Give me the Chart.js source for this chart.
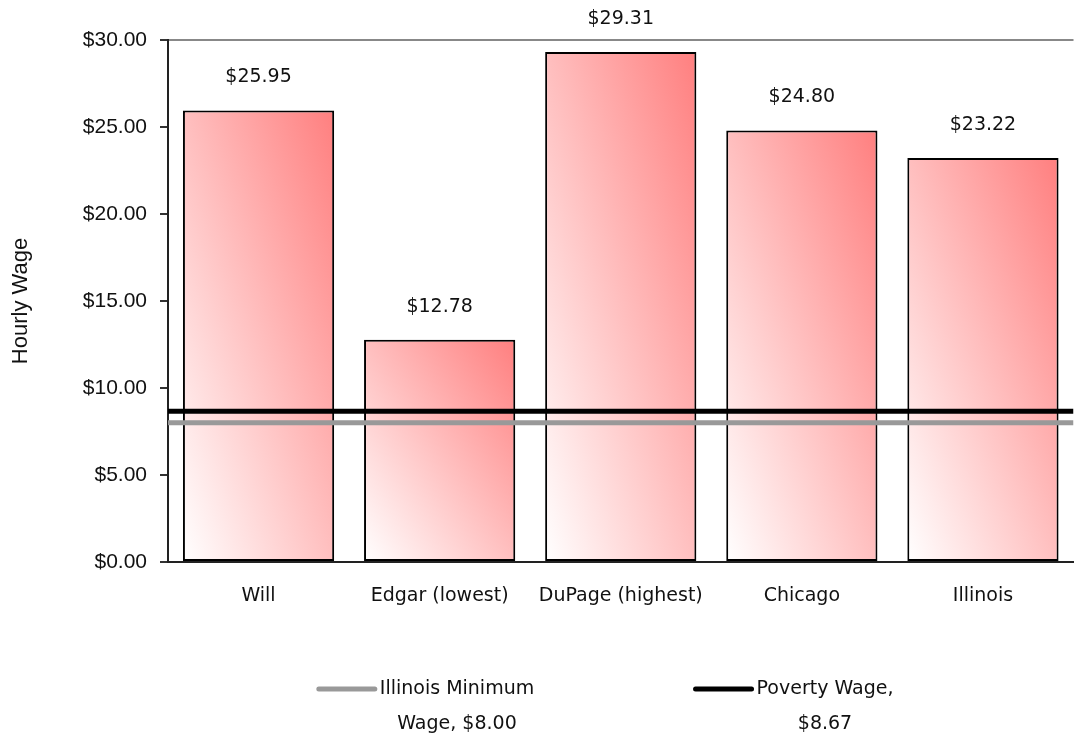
<!DOCTYPE html>
<html>
<head>
<meta charset="utf-8">
<script src="https://cdn.jsdelivr.net/npm/chart.js@4/dist/chart.umd.min.js"></script>
<style>
  body { margin: 0; background: #fff; }
  #wrap { width: 1076px; height: 738px; }
</style>
</head>
<body>
<div id="wrap"><canvas id="wageChart" width="1076" height="738"></canvas></div>
<script>
// Chart data
const categories = ['Will', 'Edgar (lowest)', 'DuPage (highest)', 'Chicago', 'Illinois'];
const hourlyWage = [25.95, 12.78, 29.31, 24.80, 23.22];
const minimumWage = 8.00;
const povertyWage = 8.67;
const yTickStep = 5;
const yMax = 30;
const legendLabels = [['Illinois Minimum', 'Wage, $8.00'], ['Poverty Wage,', '$8.67']];

const BAR_FRACTION = 0.835;
const textFont = "'DejaVu Sans', Verdana, sans-serif";
const axisFont = "'Liberation Sans', Arial, sans-serif";

// diagonal gradient per bar: white at bottom-left -> salmon at top-right
function barGradient(c) {
  const chart = c.chart;
  const xs = chart.scales.x, ys = chart.scales.y;
  if (!xs || !ys || c.dataIndex === undefined || c.raw === undefined) return '#ff8080';
  const w = (xs.right - xs.left) / categories.length * BAR_FRACTION;
  const x0 = xs.getPixelForValue(c.dataIndex) - w / 2;
  const base = ys.getPixelForValue(0);
  const top = ys.getPixelForValue(c.raw);
  const h = Math.max(1, base - top);
  const k = 2 * w * h / (w * w + h * h);
  const pts = [x0, base, x0 + h * k, base - w * k];
  if (!pts.every(Number.isFinite) || w <= 0) return '#ff8080';
  const g = chart.ctx.createLinearGradient(pts[0], pts[1], pts[2], pts[3]);
  g.addColorStop(0, '#ffffff');
  g.addColorStop(1, '#ff7f7f');
  return g;
}

// value labels above bars
const valueLabels = {
  id: 'valueLabels',
  afterDatasetsDraw(chart) {
    const ctx = chart.ctx;
    const meta = chart.getDatasetMeta(0);
    ctx.save();
    ctx.font = '19px ' + textFont;
    ctx.fillStyle = '#111';
    ctx.textAlign = 'center';
    ctx.textBaseline = 'middle';
    meta.data.forEach((bar, i) => {
      ctx.fillText('$' + hourlyWage[i].toFixed(2), bar.x, bar.y - 33);
    });
    ctx.restore();
  }
};

// legend with wrapped labels under the chart
const wrappedLegend = {
  id: 'wrappedLegend',
  afterDraw(chart) {
    const ctx = chart.ctx;
    const centers = [457, 825];
    const lineDs = [chart.data.datasets[1], chart.data.datasets[2]];
    ctx.save();
    ctx.font = '19px ' + textFont;
    ctx.fillStyle = '#111';
    ctx.textAlign = 'center';
    ctx.textBaseline = 'middle';
    legendLabels.forEach((lines, i) => {
      const cx = centers[i];
      const firstW = ctx.measureText(lines[0]).width;
      const left = cx - firstW / 2;
      ctx.strokeStyle = lineDs[i].borderColor;
      ctx.lineWidth = 5;
      ctx.lineCap = 'round';
      ctx.beginPath();
      ctx.moveTo(left - 61, 689);
      ctx.lineTo(left - 5, 689);
      ctx.stroke();
      lines.forEach((t, j) => ctx.fillText(t, cx, 689 + j * 35));
    });
    ctx.restore();
  }
};

const chart = new Chart(document.getElementById('wageChart'), {
  data: {
    labels: categories,
    datasets: [
      {
        type: 'bar',
        label: 'Hourly Wage',
        data: hourlyWage,
        xAxisID: 'x',
        backgroundColor: barGradient,
        borderColor: '#000',
        borderWidth: 2,
        borderSkipped: false,
        grouped: false,
        barPercentage: 1,
        categoryPercentage: BAR_FRACTION,
        order: 3
      },
      {
        type: 'line',
        label: 'Illinois Minimum Wage, $8.00',
        data: [{ x: 0, y: minimumWage }, { x: 1, y: minimumWage }],
        xAxisID: 'x2',
        borderColor: '#999999',
        borderWidth: 5,
        pointRadius: 0,
        order: 2
      },
      {
        type: 'line',
        label: 'Poverty Wage, $8.67',
        data: [{ x: 0, y: povertyWage }, { x: 1, y: povertyWage }],
        xAxisID: 'x2',
        borderColor: '#000000',
        borderWidth: 5,
        pointRadius: 0,
        order: 1
      }
    ]
  },
  options: {
    responsive: false,
    animation: false,
    layout: { padding: { top: 40, right: 0, left: 0, bottom: 0 } },
    plugins: {
      legend: { display: false },
      tooltip: { enabled: false }
    },
    scales: {
      x: {
        type: 'category',
        position: 'bottom',
        grid: { display: false, drawTicks: false },
        border: { color: '#222', width: 2 },
        ticks: {
          color: '#111',
          font: { family: textFont, size: 19 },
          padding: 23,
          maxRotation: 0
        },
        afterFit: (scale) => { scale.height = 176; }
      },
      x2: {
        type: 'linear',
        min: 0,
        max: 1,
        display: false
      },
      y: {
        min: 0,
        max: yMax,
        ticks: {
          stepSize: yTickStep,
          color: '#111',
          padding: 13,
          font: { family: axisFont, size: 21 },
          callback: (v) => '$' + Number(v).toFixed(2)
        },
        grid: {
          color: (c) => (c.tick && c.tick.value === yMax ? '#888888' : 'rgba(0,0,0,0)'),
          tickColor: '#333',
          tickLength: 8,
          lineWidth: 2
        },
        border: { color: '#222', width: 2 },
        title: {
          display: true,
          text: 'Hourly Wage',
          color: '#111',
          font: { family: axisFont, size: 22 },
          padding: { top: 8, bottom: 0 }
        },
        afterFit: (scale) => { scale.width = 168; }
      }
    }
  },
  plugins: [valueLabels, wrappedLegend]
});
// re-resolve the gradients now that the scales have their final size
chart.update('none');
</script>
</body>
</html>
